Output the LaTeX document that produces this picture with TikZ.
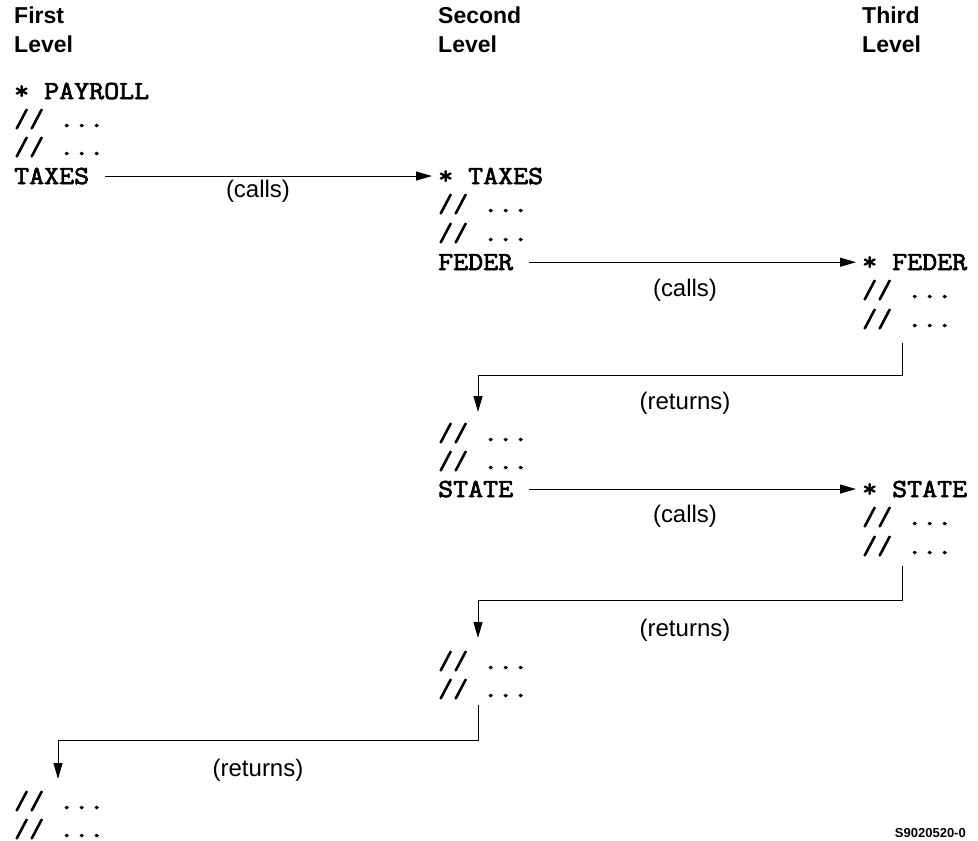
\documentclass[tikz,border=0pt]{standalone}
\usepackage{fontspec}
\setmainfont{Liberation Sans}
\newfontfamily\codefont[FakeBold=2.6,FakeStretch=1.12]{Latin Modern Mono}
\usetikzlibrary{arrows.meta}
\tikzset{
  code/.style={anchor=base west, inner sep=0pt, font=\codefont\fontsize{26}{28}\selectfont},
  head/.style={anchor=base west, inner sep=0pt, align=left, font=\bfseries\fontsize{23}{29}\selectfont},
  lbl/.style={anchor=center, inner sep=0pt, font=\fontsize{24}{28}\selectfont},
  call/.style={line width=1pt, -{Triangle[length=16pt,width=9pt]}, shorten <=16pt, shorten >=6pt},
  ret/.style={line width=1pt, -{Triangle[length=16pt,width=9pt]}},
}
\begin{document}
\begin{tikzpicture}[x=1pt,y=-1pt]
\useasboundingbox (0,0) rectangle (978,841);
% headers
\node[head] (h1a) at (14,23) {First};
\node[head] (h1b) at (14,52) {Level};
\node[head] (h2a) at (438,23) {Second};
\node[head] (h2b) at (438,52) {Level};
\node[head] (h3a) at (862,23) {Third};
\node[head] (h3b) at (862,52) {Level};
% first level
\node[code] (p1) at (14,99) {* PAYROLL};
\node[code] (p2) at (14,127) {// ...};
\node[code] (p3) at (14,155) {// ...};
\node[code] (p4) at (14,184) {TAXES};
% second level
\node[code] (t1) at (438,184) {* TAXES};
\node[code] (t2) at (438,212) {// ...};
\node[code] (t3) at (438,241) {// ...};
\node[code] (t4) at (438,270) {FEDER};
% third level FEDER
\node[code] (f1) at (862,270) {* FEDER};
\node[code] (f2) at (862,298) {// ...};
\node[code] (f3) at (862,327) {// ...};
% second level continued
\node[code] (t5) at (438,441) {// ...};
\node[code] (t6) at (438,469) {// ...};
\node[code] (t7) at (438,497) {STATE};
% third level STATE
\node[code] (s1) at (862,497) {* STATE};
\node[code] (s2) at (862,525) {// ...};
\node[code] (s3) at (862,554) {// ...};
% second level end
\node[code] (t8) at (438,669) {// ...};
\node[code] (t9) at (438,697) {// ...};
% first level end
\node[code] (p5) at (14,809) {// ...};
\node[code] (p6) at (14,837) {// ...};
% labels
\node[lbl] (l1) at (258,191) {(calls)};
\node[lbl] (l2) at (685,290) {(calls)};
\node[lbl] (l3) at (685,516) {(calls)};
\node[lbl] (l4) at (685,403) {(returns)};
\node[lbl] (l5) at (685,630) {(returns)};
\node[lbl] (l6) at (258,770) {(returns)};
\node[anchor=east, inner sep=0pt, font=\bfseries\fontsize{13}{15}\selectfont] (id) at (966,833) {S9020520-0};
% calls
\draw[call] (p4.east) -- (t1.west);
\draw[call] (t4.east) -- (f1.west);
\draw[call] (t7.east) -- (s1.west);
% returns
\coordinate (r1s) at (902,343);
\coordinate (r1a) at (902,375);
\coordinate (r1b) at (478,375);
\coordinate (r1e) at (478,412);
\draw[ret] (r1s) -- (r1a) -- (r1b) -- (r1e);
\coordinate (r2s) at (902,566);
\coordinate (r2a) at (902,600);
\coordinate (r2b) at (478,600);
\coordinate (r2e) at (478,638);
\draw[ret] (r2s) -- (r2a) -- (r2b) -- (r2e);
\coordinate (r3s) at (478,705);
\coordinate (r3a) at (478,740);
\coordinate (r3b) at (58,740);
\coordinate (r3e) at (58,779);
\draw[ret] (r3s) -- (r3a) -- (r3b) -- (r3e);
\end{tikzpicture}
\end{document}
